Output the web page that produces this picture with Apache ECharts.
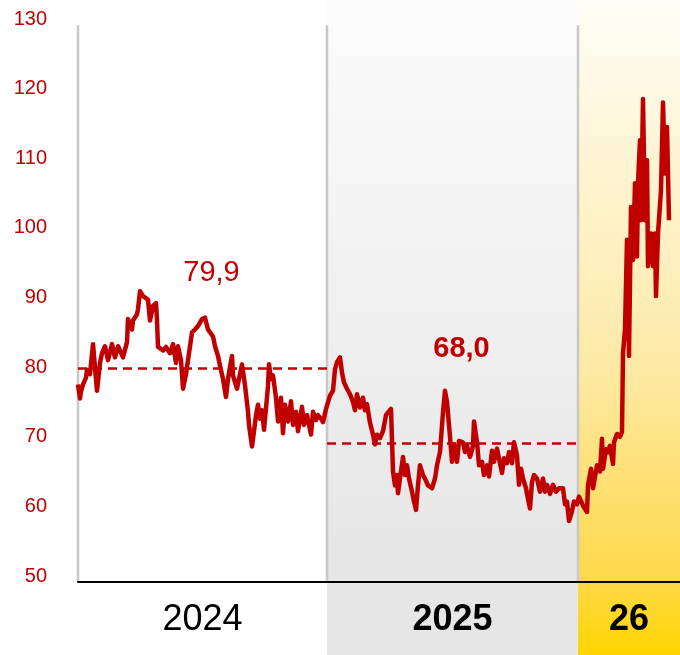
<!DOCTYPE html>
<html>
<head>
<meta charset="utf-8">
<script src="https://cdn.jsdelivr.net/npm/echarts@6/dist/echarts.min.js"></script>
<style>
html,body{margin:0;padding:0;background:#fff;}
#c{width:680px;height:655px;}
</style>
</head>
<body>
<div id="c"></div>
<script>
// trading-day index (0 = first day of 2024) and price
const days = [0,2,3,5,8,9,12,15,16,19,22,24,27,30,34,37,40,45,49,50,54,55,59,60,62,65,67,70,72,75,78,79,80,85,88,92,95,98,100,103,105,108,110,114,117,120,124,
127,128,130,135,137,140,142,145,148,150,152,154,155,159,162,164,167,170,171,174,176,178,180,182,184,186,188,190,191,193,195,198,200,203,205,207,210,213,215,218,220,224,226,229,233,235,238,240,243,245,248,
252,255,257,259,262,264,266,269,272,275,277,279,282,285,287,289,292,295,297,299,302,305,308,310,313,315,317,319,320,322,325,327,329,331,334,336,338,340,342,345,347,350,354,357,359,362,365,367,369,
372,374,376,379,381,385,387,389,392,395,396,399,401,404,406,409,411,414,416,419,421,424,426,429,431,434,436,439,441,443,445,448,450,452,454,456,459,462,465,467,469,472,475,478,481,485,487,489,491,494,496,499,
501,502,505,509,510,513,515,517,519,522,524,525,528,530,532,535,536,539,542,544,545,547,549,551,553,555,557,559,560,562,563,565,567,569,570,573,575,577,578,580,583,585,587,589,591];
const prices = [77.5,75.5,76.5,77.5,78.5,79.6,79,83.3,81.6,76.6,80.6,82,83,81,83.3,81.4,83,81.4,83.6,86.9,85.4,86.7,87.6,88.3,90.9,90.2,90.4,89.7,86.7,88.8,89.2,86.7,82.9,82.4,82.9,82,83.3,80.6,83,81,76.9,79,81,85,85.4,85.9,86.9,
87.1,86.9,85.4,84.4,83,81.6,80.2,78.3,75.7,78.3,80,81.6,78.8,76.9,79,80.4,77.4,73.6,71.7,68.6,70.8,73.1,74.6,72.6,73.8,71,74.1,77.3,80.4,78.3,78.8,75.6,72.2,75.6,70.5,74.6,72.2,75.1,71.7,73.6,70.8,74.3,71.7,73.1,70.3,73.6,72.4,73.1,72.6,72.1,74.0,
75.9,76.6,79.7,80.7,81.4,79.2,77.8,76.9,76.1,75,73.8,76.1,74.2,75.6,73.8,74.7,72,70.3,68.9,70.3,69.8,70.8,73.1,73.5,74.0,65,63,64.5,61.9,64,67.1,64.5,65.9,64,62.1,60.7,59.5,63,65.9,64.5,64,63,62.6,64,65.9,67.8,73.5,76.6,75,
70,66.4,68.9,66.4,69.4,69.2,67.8,68.7,67.1,68.7,72.2,69.2,65.9,66.4,64.5,65.9,64.3,68,66.4,68.3,68.5,64.8,66.9,66.2,67.8,66.2,69.2,67.3,63.1,65.4,64,62.6,61.1,59.7,63.5,64.5,64,62.1,64,62.1,63.1,61.8,63.1,62.1,62.6,62.6,60.3,60.7,57.9,59.3,60.7,60.3,
61.4,61.1,60.1,59.2,63,65.4,62.6,62.4,65.9,65,69.7,65.4,68.2,67.8,68.7,66.1,69.2,70.4,70,70.7,82,85.4,98.3,81.6,103,95.4,106.4,95.9,106.4,112.6,101.1,118.5,101.1,109.7,94.5,99.2,94.5,99.2,90.2,99.2,105.4,118,107.8,114.5,101.1];

const years = ['2024', '2025', '26'];
const yearStart = [0, 249, 500];
const yearEnd = [249, 500, 602];
const avgLine = [79.9, 69.0];
const avgLabel = ['79,9', '68,0'];
const yTicks = [50, 130, 10];

const RED = '#c00000';
const FONT = '"Liberation Sans", Arial, sans-serif';

const chart = echarts.init(document.getElementById('c'));
const option = {
  animation: false,
  backgroundColor: '#fff',
  grid: {left: 78, right: 0, top: 19, bottom: 79},
  xAxis: {
    type: 'value', min: 0, max: yearEnd[2], offset: 6,
    axisLine: {show: true, onZero: false, lineStyle: {color: '#000', width: 2}},
    axisTick: {show: false}, axisLabel: {show: false}, splitLine: {show: false}
  },
  yAxis: {
    type: 'value', min: yTicks[0], max: yTicks[1], interval: yTicks[2],
    axisLine: {show: false}, axisTick: {show: false}, splitLine: {show: false},
    axisLabel: {color: RED, fontSize: 20, fontFamily: FONT, margin: 31}
  },
  series: [
    {
      type: 'line', data: [], z: 3, silent: true,
      markLine: {
        silent: true, symbol: 'none', label: {show: false},
        lineStyle: {color: RED, width: 2.5, type: [9, 6]},
        data: avgLine.map((v, i) => [{coord: [yearStart[i], v]}, {coord: [yearEnd[i], v]}])
      }
    },
    {
      type: 'line', z: 5, silent: true,
      data: days.map((d, i) => [d, prices[i]]),
      showSymbol: false, symbol: 'none',
      lineStyle: {color: RED, width: 4.5, join: 'round'}
    }
  ]
};
chart.setOption(option);

function px(x, y) { return chart.convertToPixel({gridIndex: 0}, [x, y]); }
const H = 655;
const bgGrad = [
  null,
  [{offset: 0, color: '#fcfcfc'}, {offset: 0.85, color: '#e6e6e6'}, {offset: 1, color: '#e6e6e6'}],
  [{offset: 0, color: '#fffdf7'}, {offset: 0.55, color: '#fdeaa8'}, {offset: 0.88, color: '#ffd94c'}, {offset: 1, color: '#ffd500'}]
];
const elements = [];
years.forEach((y, i) => {
  const x0 = px(yearStart[i], 50)[0];
  const x1 = px(yearEnd[i], 50)[0];
  if (bgGrad[i]) {
    elements.push({
      type: 'rect', z: -10, silent: true,
      shape: {x: x0, y: 0, width: x1 - x0, height: H},
      style: {fill: new echarts.graphic.LinearGradient(0, 0, 0, 1, bgGrad[i])}
    });
  }
  elements.push({
    type: 'text', z: 50, silent: true,
    style: {
      text: y, x: (x0 + x1) / 2, y: 620, align: 'center', verticalAlign: 'middle',
      font: (i === 0 ? 'normal ' : 'bold ') + '36px ' + FONT, fill: '#000'
    }
  });
});
const axisY = px(0, 50)[1] + 6;
const topY = px(0, 129.1)[1];
yearStart.forEach((s) => {
  const x = px(s, 50)[0];
  elements.push({
    type: 'line', z: -5, silent: true,
    shape: {x1: x, y1: topY, x2: x, y2: axisY},
    style: {stroke: '#c8c8c8', lineWidth: 2.5}
  });
});
avgLine.forEach((v, i) => {
  const p = px((yearStart[i] + yearEnd[i]) / 2, v);
  elements.push({
    type: 'text', z: 50, silent: true,
    style: {
      text: avgLabel[i], x: p[0] + 9, y: p[1] - 95, align: 'center', verticalAlign: 'middle',
      font: (i === 0 ? 'normal ' : 'bold ') + '29px ' + FONT, fill: RED
    }
  });
});
chart.setOption({graphic: {elements: elements}});
</script>
</body>
</html>
